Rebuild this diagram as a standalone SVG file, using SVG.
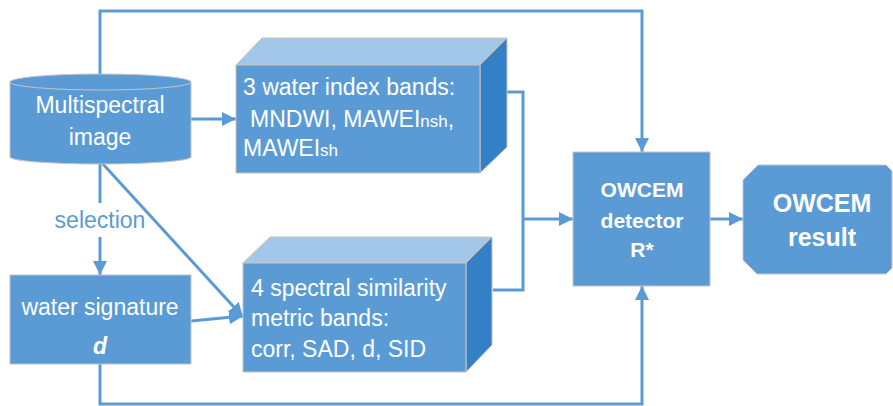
<svg xmlns="http://www.w3.org/2000/svg" width="893" height="406" viewBox="0 0 893 406">
<defs>
<marker id="ah" viewBox="0 0 14 14" refX="14" refY="7" markerWidth="14" markerHeight="14" orient="auto" markerUnits="userSpaceOnUse"><path d="M0,0 L14,7 L0,14 z" fill="#5B9BD5"/></marker>
<style>
.f{fill:#5B9BD5;stroke:#C4C4C4;stroke-width:1}
.top{fill:#A3C7E9;stroke:#C4C4C4;stroke-width:1}
.side{fill:#3380C6;stroke:#C4C4C4;stroke-width:1}
.t{font-family:"Liberation Sans",Arial,sans-serif;font-size:23px;fill:#fff}
.b{font-family:"Liberation Sans",Arial,sans-serif;font-weight:bold;fill:#fff}
.c{fill:none;stroke:#5B9BD5;stroke-width:3}
</style>
</defs>
<rect width="893" height="406" fill="#fff"/>
<g id="connectors">
<polyline class="c" points="100,74 100,11 642,11 642,152" marker-end="url(#ah)"/>
<line class="c" x1="191" y1="119" x2="236" y2="119" marker-end="url(#ah)"/>
<line class="c" x1="100" y1="163" x2="100" y2="203"/>
<line class="c" x1="100" y1="237" x2="100" y2="275" marker-end="url(#ah)"/>
<line class="c" x1="102" y1="163" x2="243" y2="317" marker-end="url(#ah)"/>
<line class="c" x1="191" y1="321" x2="243" y2="316" marker-end="url(#ah)"/>
<polyline class="c" points="507,92 523,92 523,290 493,290"/>
<line class="c" x1="523" y1="219" x2="573" y2="219" marker-end="url(#ah)"/>
<polyline class="c" points="100,364 100,404 642,404 642,286" marker-end="url(#ah)"/>
<line class="c" x1="710" y1="219" x2="743" y2="219" marker-end="url(#ah)"/>
<text x="100" y="228" text-anchor="middle" font-family="Liberation Sans, Arial, sans-serif" font-size="23" fill="#5B9BD5">selection</text>
</g>
<g id="multispectral">
<path class="f" d="M10,82 L10,157 A90.5,7 0 0 0 191,157 L191,82 Z"/>
<ellipse class="f" cx="100.5" cy="82" rx="90.5" ry="8"/>
<text class="t" x="100" y="113" text-anchor="middle">Multispectral</text>
<text class="t" x="100" y="145" text-anchor="middle">image</text>
</g>
<g id="water-index">
<polygon class="top" points="236,65 262,38 507,38 480,65"/>
<polygon class="side" points="480,65 507,38 507,147 480,173"/>
<rect class="f" x="236" y="65" width="244" height="108"/>
<text class="t" x="243" y="95">3 water index bands:</text>
<text class="t" x="250" y="127">MNDWI, MAWEI<tspan font-size="17">nsh</tspan>,</text>
<text class="t" x="243" y="156">MAWEI<tspan font-size="17">sh</tspan></text>
</g>
<g id="similarity">
<polygon class="top" points="243,263 270,237 492,237 466,263"/>
<polygon class="side" points="466,263 492,237 492,345 466,372"/>
<rect class="f" x="243" y="263" width="223" height="109"/>
<text class="t" x="251" y="296">4 spectral similarity</text>
<text class="t" x="251" y="326">metric bands:</text>
<text class="t" x="251" y="357">corr, SAD, d, SID</text>
</g>
<g id="water-signature">
<rect class="f" x="10" y="275" width="181" height="89"/>
<text class="t" x="100" y="315" text-anchor="middle">water signature</text>
<text class="t" x="100" y="354" text-anchor="middle" font-weight="bold" font-style="italic" font-size="24">d</text>
</g>
<g id="detector">
<rect class="f" x="573" y="152" width="137" height="134"/>
<text class="b" x="642" y="197" text-anchor="middle" font-size="21">OWCEM</text>
<text class="b" x="642" y="228" text-anchor="middle" font-size="21">detector</text>
<text class="b" x="642" y="257" text-anchor="middle" font-size="21">R*</text>
</g>
<g id="result">
<polygon class="f" points="758,165 886,165 892,171 892,268 886,274 757,274 743,260 743,180"/>
<text class="b" x="822" y="212" text-anchor="middle" font-size="25">OWCEM</text>
<text class="b" x="822" y="246" text-anchor="middle" font-size="25">result</text>
</g>
</svg>
